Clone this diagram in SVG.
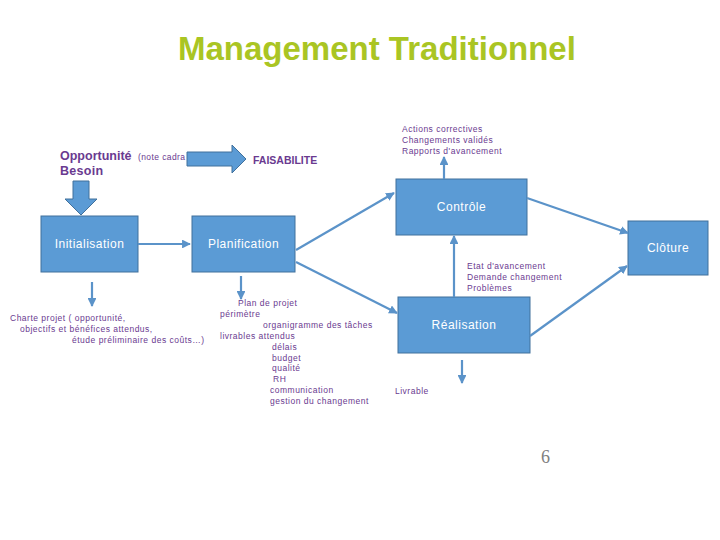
<svg xmlns="http://www.w3.org/2000/svg" width="720" height="540" viewBox="0 0 720 540">
<defs>
<style>
.box{fill:#5b9bd5;stroke:#41719c;stroke-width:1}
.bt{font-family:"Liberation Sans",Arial,sans-serif;font-size:12px;fill:#ffffff;text-anchor:middle;letter-spacing:0.5px}
.sm{font-family:"Liberation Sans",Arial,sans-serif;font-size:8.5px;fill:#6a3a90;letter-spacing:0.5px}
.pb{font-family:"Liberation Sans",Arial,sans-serif;font-weight:bold;fill:#6a3a90}
.conn line{stroke:#5b93c9;stroke-width:2.2;marker-end:url(#ah)}
.blk{fill:#5b9bd5;stroke:#41719c;stroke-width:1}
</style>
<marker id="ah" viewBox="0 0 10 10" refX="9" refY="5" markerWidth="4" markerHeight="4" orient="auto" markerUnits="strokeWidth">
<path d="M0,0 L10,5 L0,10 z" fill="#5b93c9"/>
</marker>
</defs>
<rect width="720" height="540" fill="#ffffff"/>
<text x="178" y="60" font-family="Liberation Sans,Arial,sans-serif" font-weight="bold" font-size="33" fill="#aac523">Management Traditionnel</text>

<g id="opportunite">
<text class="pb" x="60" y="160" font-size="12.5">Opportunité</text>
<text class="pb" x="60" y="175" font-size="12.5" letter-spacing="0.3">Besoin</text>
<text x="138" y="160" font-family="Liberation Sans,Arial,sans-serif" font-size="8.5" letter-spacing="0.4" fill="#6a3a90">(note cadra</text>
</g>
<g id="fleche-faisabilite">
<path class="blk" d="M187,152 L232,152 L232,145 L246,159 L232,173 L232,166 L187,166 z"/>
</g>
<g id="faisabilite">
<text class="pb" x="253" y="164" font-size="10.5">FAISABILITE</text>
</g>
<g id="fleche-besoin">
<path class="blk" d="M73,181 L89,181 L89,199 L97,199 L81,215 L65,199 L73,199 z"/>
</g>

<g id="initialisation">
<rect class="box" x="41" y="216" width="97" height="56"/>
<text class="bt" x="89.5" y="248">Initialisation</text>
</g>
<g id="planification">
<rect class="box" x="192" y="216" width="103" height="56"/>
<text class="bt" x="243.5" y="248">Planification</text>
</g>
<g id="controle">
<rect class="box" x="396" y="179" width="131" height="56"/>
<text class="bt" x="461.5" y="211">Contrôle</text>
</g>
<g id="cloture">
<rect class="box" x="628" y="221" width="80" height="54"/>
<text class="bt" x="668" y="252">Clôture</text>
</g>
<g id="realisation">
<rect class="box" x="398" y="297" width="132" height="56"/>
<text class="bt" x="464" y="329">Réalisation</text>
</g>

<g id="connecteurs" class="conn">
<line x1="138" y1="244" x2="190" y2="244"/>
<line x1="296" y1="250" x2="394" y2="193"/>
<line x1="296" y1="262" x2="397" y2="313"/>
<line x1="527" y1="198" x2="628" y2="233"/>
<line x1="530" y1="336" x2="627" y2="266"/>
<line x1="454" y1="297" x2="454" y2="236"/>
<line x1="444" y1="179" x2="444" y2="157"/>
<line x1="92" y1="282" x2="92" y2="306"/>
<line x1="241" y1="276" x2="241" y2="299"/>
<line x1="462" y1="360" x2="462" y2="383"/>
</g>

<g id="sorties-controle">
<text class="sm" x="402" y="132">Actions correctives</text>
<text class="sm" x="402" y="143">Changements validés</text>
<text class="sm" x="402" y="154">Rapports d'avancement</text>
</g>
<g id="entrees-controle">
<text class="sm" x="467" y="269">Etat d'avancement</text>
<text class="sm" x="467" y="280">Demande changement</text>
<text class="sm" x="467" y="291">Problèmes</text>
</g>
<g id="charte">
<text class="sm" x="10" y="321">Charte projet ( opportunité,</text>
<text class="sm" x="20" y="332">objectifs et bénéfices attendus,</text>
<text class="sm" x="72" y="343">étude préliminaire des coûts…)</text>
</g>
<g id="plan-projet">
<text class="sm" x="238" y="306">Plan de projet</text>
<text class="sm" x="220" y="317">périmètre</text>
<text class="sm" x="263" y="328">organigramme des tâches</text>
<text class="sm" x="220" y="339">livrables attendus</text>
<text class="sm" x="272" y="350">délais</text>
<text class="sm" x="272" y="361">budget</text>
<text class="sm" x="272" y="371">qualité</text>
<text class="sm" x="273" y="382">RH</text>
<text class="sm" x="270" y="393">communication</text>
<text class="sm" x="270" y="404">gestion du changement</text>
</g>
<g id="livrable">
<text class="sm" x="395" y="394">Livrable</text>
</g>
<text x="541" y="463" font-family="Liberation Serif,Times New Roman,serif" font-size="18" fill="#808080">6</text>
</svg>
